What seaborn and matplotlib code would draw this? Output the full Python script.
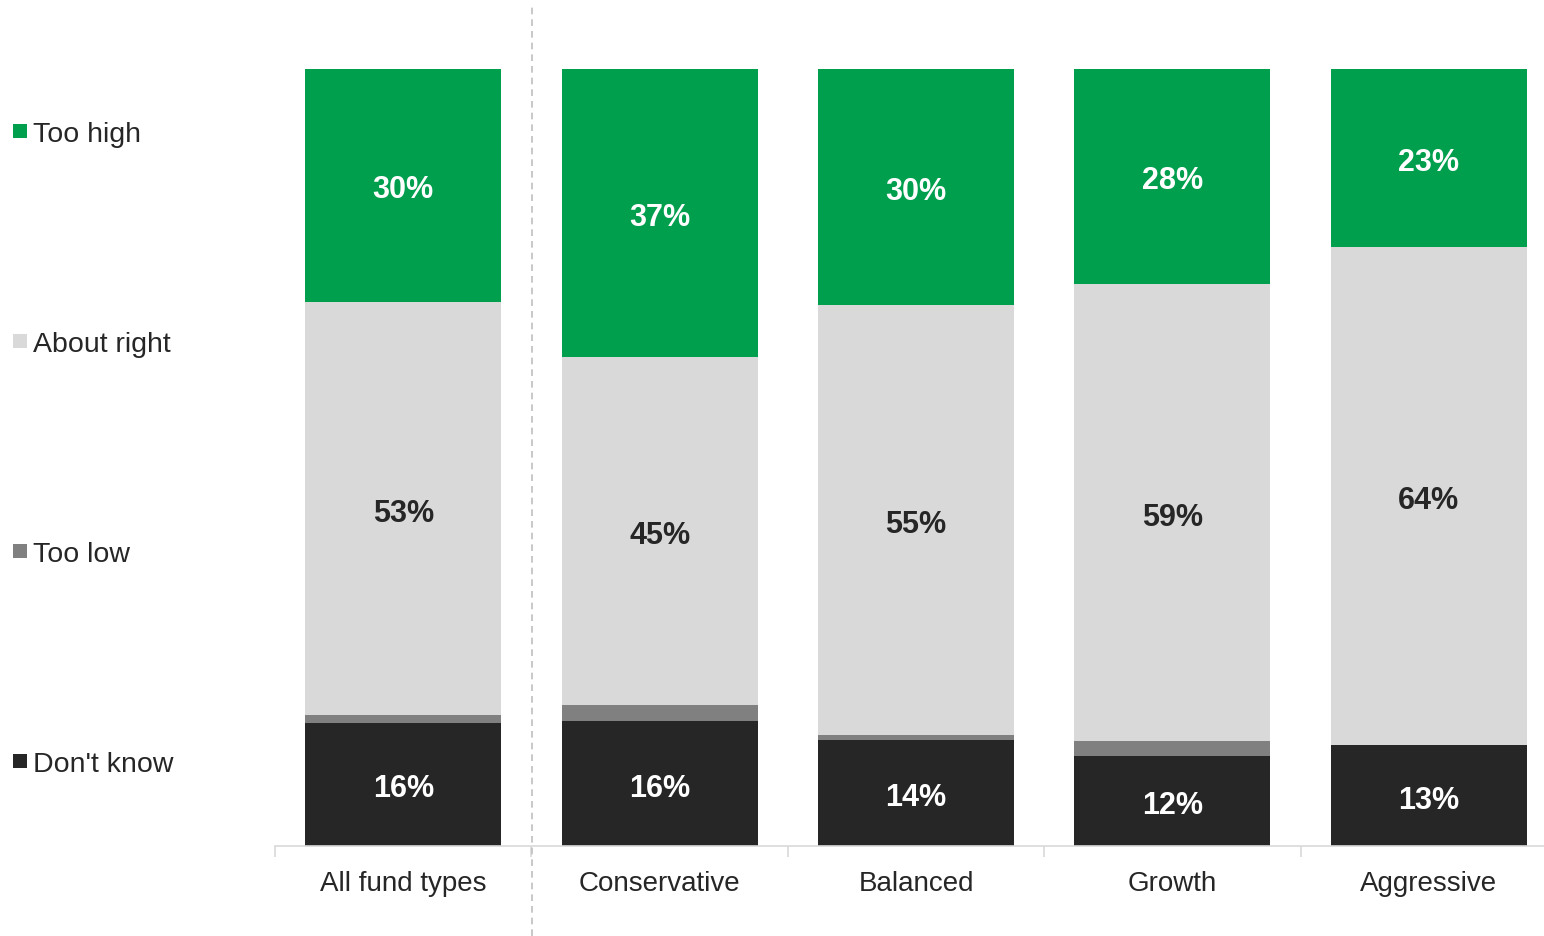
import matplotlib
matplotlib.use("Agg")
import matplotlib.pyplot as plt
from matplotlib.patches import Rectangle
from matplotlib.lines import Line2D
import seaborn as sns
import numpy as np

categories = ["All fund types", "Conservative", "Balanced", "Growth", "Aggressive"]
dont_know = [15.8, 16.0, 13.6, 11.6, 12.9]
too_low = [1.0, 2.1, 0.7, 1.9, 0.0]
about_right = [53.2, 44.8, 55.3, 58.8, 64.2]
too_high = [30.0, 37.1, 30.4, 27.8, 22.8]

series = [
    ("Don't know", dont_know, "#262626", "white"),
    ("Too low", too_low, "#808080", "white"),
    ("About right", about_right, "#D9D9D9", "#262626"),
    ("Too high", too_high, "#009F4D", "white"),
]

sns.set_theme(style="white")
plt.rcParams["font.family"] = ["Liberation Sans", "DejaVu Sans"]

W, H = 1544, 937
fig = plt.figure(figsize=(W / 100, H / 100), dpi=100)
ax = fig.add_axes([275 / W, 90.3 / H, 1282 / W, 777 / H])

x = np.arange(len(categories))
bottom = np.zeros(len(categories))
for name, vals, color, tcolor in series:
    vals = np.array(vals)
    sns.barplot(x=categories, y=vals, bottom=bottom, color=color, saturation=1,
                width=0.764, linewidth=0, ax=ax, order=categories)
    for i, v in enumerate(vals):
        if v >= 5:
            ax.annotate(f"{round(v):.0f}%", (i, bottom[i] + v / 2), xytext=(0, -3),
                        textcoords="offset points", ha="center", va="center",
                        color=tcolor, fontsize=22, fontweight="bold")
    bottom = bottom + vals

ax.set_xlim(-0.5, len(categories) - 0.5)
ax.set_ylim(0, 100)
ax.set_yticks([])
ax.set_ylabel("")
for s in ["top", "right", "left"]:
    ax.spines[s].set_visible(False)
ax.spines["bottom"].set_color("#D9D9D9")
ax.spines["bottom"].set_linewidth(1.2)
ax.set_xticks(x)
ax.set_xticklabels(categories, fontsize=20, color="#262626")
ax.tick_params(axis="x", which="major", length=0, pad=17.5)
ax.set_xticks(np.arange(-0.5, len(categories), 1.0), minor=True)
ax.tick_params(axis="x", which="minor", bottom=True, length=8, color="#D9D9D9",
               width=1.2, direction="out")

# dashed separator
fig.add_artist(Line2D([532 / W, 532 / W], [0, 1 - 8 / H], transform=fig.transFigure,
                      color="#BFBFBF", linewidth=1.2, linestyle=(0, (4, 3))))

# legend
legend_items = [("Too high", "#009F4D", 132), ("About right", "#D9D9D9", 342),
                ("Too low", "#808080", 552), ("Don't know", "#262626", 762)]
for label, color, ypix in legend_items:
    fig.add_artist(Rectangle((13 / W, 1 - (ypix + 7) / H), 14 / W, 14 / H,
                             transform=fig.transFigure, facecolor=color, edgecolor="none"))
    fig.text(33 / W, 1 - (ypix + 3) / H, label, fontsize=20.5, color="#262626",
             ha="left", va="center")

fig.savefig("out.png", dpi=100)
